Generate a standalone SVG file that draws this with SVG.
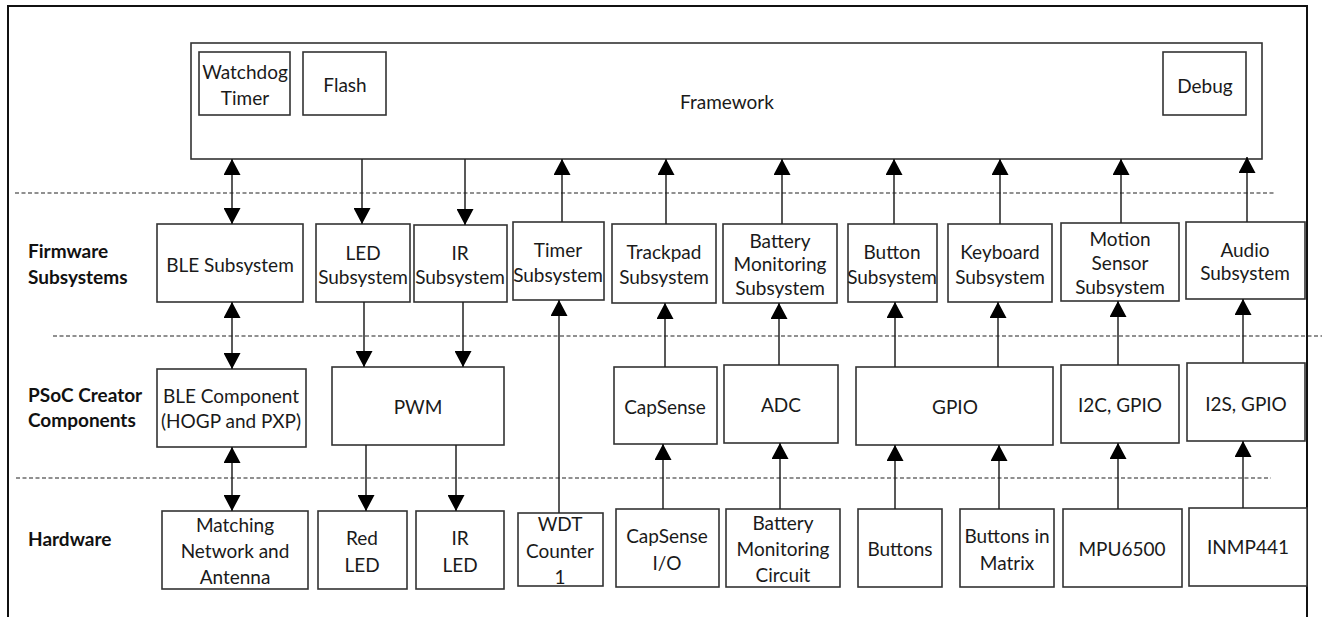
<svg xmlns="http://www.w3.org/2000/svg" width="1322" height="617" viewBox="0 0 1322 617">
<style>
.box{fill:#fff;stroke:#333;stroke-width:1.6}
.t{font-family:Lato,"Open Sans","Liberation Sans",sans-serif;font-size:19px;fill:#1a1a1a;text-anchor:middle}
.lbl{font-family:Lato,"Open Sans","Liberation Sans",sans-serif;font-size:19px;font-weight:bold;fill:#111}
.dash{stroke:#222;stroke-width:1.2;stroke-dasharray:4 2.5;fill:none}
.c line{stroke:#222;stroke-width:1.5}
.one{marker-end:url(#ah)}
.two{marker-end:url(#ah);marker-start:url(#ah)}
</style>
<defs>
<marker id="ah" markerUnits="userSpaceOnUse" markerWidth="16" markerHeight="17" refX="16" refY="8.5" orient="auto-start-reverse" viewBox="0 0 16 17">
<path d="M0,0 L16,8.5 L0,17 Z" fill="#000"/>
</marker>
</defs>
<rect width="1322" height="617" fill="#fff"/>
<path d="M8,617 V6 H1307 V617" fill="none" stroke="#111" stroke-width="2"/>
<g id="separators">
<line class="dash" x1="15" y1="193" x2="1275" y2="193"/>
<line class="dash" x1="53" y1="336" x2="1322" y2="336"/>
<line class="dash" x1="16" y1="478" x2="1271" y2="478"/>
</g>
<g id="layer-labels">
<text class="lbl" x="28" y="258">Firmware</text>
<text class="lbl" x="28" y="284">Subsystems</text>
<text class="lbl" x="28" y="402">PSoC Creator</text>
<text class="lbl" x="28" y="427">Components</text>
<text class="lbl" x="28" y="546">Hardware</text>
</g>
<g id="framework">
<rect class="box" x="191" y="43" width="1071" height="116"/>
<text class="t" x="727" y="109">Framework</text>
</g>
<g id="watchdog"><rect class="box" x="199" y="52" width="91" height="63"/><text class="t" x="245" y="79">Watchdog</text><text class="t" x="245" y="105">Timer</text></g>
<g id="flash"><rect class="box" x="303" y="52" width="83" height="63"/><text class="t" x="345" y="92">Flash</text></g>
<g id="debug"><rect class="box" x="1163" y="52" width="83" height="63"/><text class="t" x="1205" y="93">Debug</text></g>

<g id="ble-subsystem"><rect class="box" x="157" y="224" width="146" height="78"/><text class="t" x="230" y="272">BLE Subsystem</text></g>
<g id="led-subsystem"><rect class="box" x="316" y="224" width="94" height="78"/><text class="t" x="363" y="260">LED</text><text class="t" x="363" y="284">Subsystem</text></g>
<g id="ir-subsystem"><rect class="box" x="414" y="225" width="93" height="77"/><text class="t" x="460" y="260">IR</text><text class="t" x="460" y="284">Subsystem</text></g>
<g id="timer-subsystem"><rect class="box" x="513" y="222" width="91" height="78"/><text class="t" x="558" y="257">Timer</text><text class="t" x="558" y="282">Subsystem</text></g>
<g id="trackpad-subsystem"><rect class="box" x="612" y="224" width="104" height="79"/><text class="t" x="664" y="259">Trackpad</text><text class="t" x="664" y="284">Subsystem</text></g>
<g id="battery-subsystem"><rect class="box" x="723" y="224" width="114" height="79"/><text class="t" x="780" y="248">Battery</text><text class="t" x="780" y="271">Monitoring</text><text class="t" x="780" y="295">Subsystem</text></g>
<g id="button-subsystem"><rect class="box" x="848" y="224" width="89" height="78"/><text class="t" x="892" y="259">Button</text><text class="t" x="892" y="284">Subsystem</text></g>
<g id="keyboard-subsystem"><rect class="box" x="948" y="224" width="104" height="78"/><text class="t" x="1000" y="259">Keyboard</text><text class="t" x="1000" y="284">Subsystem</text></g>
<g id="motion-subsystem"><rect class="box" x="1061" y="223" width="118" height="78"/><text class="t" x="1120" y="246">Motion</text><text class="t" x="1120" y="270">Sensor</text><text class="t" x="1120" y="294">Subsystem</text></g>
<g id="audio-subsystem"><rect class="box" x="1186" y="222" width="119" height="77"/><text class="t" x="1245" y="257">Audio</text><text class="t" x="1245" y="280">Subsystem</text></g>

<g id="ble-component"><rect class="box" x="157" y="369" width="149" height="78"/><text class="t" x="231" y="403">BLE Component</text><text class="t" x="231" y="428">(HOGP and PXP)</text></g>
<g id="pwm"><rect class="box" x="332" y="367" width="172" height="78"/><text class="t" x="418" y="414">PWM</text></g>
<g id="capsense"><rect class="box" x="614" y="367" width="103" height="77"/><text class="t" x="665" y="414">CapSense</text></g>
<g id="adc"><rect class="box" x="724" y="365" width="114" height="78"/><text class="t" x="781" y="412">ADC</text></g>
<g id="gpio"><rect class="box" x="856" y="367" width="197" height="78"/><text class="t" x="955" y="414">GPIO</text></g>
<g id="i2c-gpio"><rect class="box" x="1061" y="365" width="118" height="78"/><text class="t" x="1120" y="412">I2C, GPIO</text></g>
<g id="i2s-gpio"><rect class="box" x="1187" y="363" width="118" height="78"/><text class="t" x="1246" y="411">I2S, GPIO</text></g>

<g id="matching-network"><rect class="box" x="162" y="511" width="146" height="78"/><text class="t" x="235" y="532">Matching</text><text class="t" x="235" y="558">Network and</text><text class="t" x="235" y="584">Antenna</text></g>
<g id="red-led"><rect class="box" x="318" y="511" width="89" height="78"/><text class="t" x="362" y="545">Red</text><text class="t" x="362" y="572">LED</text></g>
<g id="ir-led"><rect class="box" x="416" y="511" width="88" height="78"/><text class="t" x="460" y="545">IR</text><text class="t" x="460" y="572">LED</text></g>
<g id="wdt-counter"><rect class="box" x="518" y="513" width="85" height="73"/><text class="t" x="560" y="531">WDT</text><text class="t" x="560" y="558">Counter</text><text class="t" x="560" y="584">1</text></g>
<g id="capsense-io"><rect class="box" x="616" y="509" width="103" height="78"/><text class="t" x="667" y="543">CapSense</text><text class="t" x="667" y="570">I/O</text></g>
<g id="battery-circuit"><rect class="box" x="726" y="509" width="114" height="78"/><text class="t" x="783" y="530">Battery</text><text class="t" x="783" y="556">Monitoring</text><text class="t" x="783" y="582">Circuit</text></g>
<g id="buttons"><rect class="box" x="858" y="509" width="84" height="78"/><text class="t" x="900" y="556">Buttons</text></g>
<g id="buttons-matrix"><rect class="box" x="960" y="509" width="94" height="78"/><text class="t" x="1007" y="543">Buttons in</text><text class="t" x="1007" y="570">Matrix</text></g>
<g id="mpu6500"><rect class="box" x="1063" y="509" width="119" height="78"/><text class="t" x="1122" y="556">MPU6500</text></g>
<g id="inmp441"><rect class="box" x="1189" y="508" width="118" height="78"/><text class="t" x="1248" y="554">INMP441</text></g>

<g id="connectors" class="c">
<line class="two" x1="232" y1="159" x2="232" y2="224"/>
<line class="one" x1="362" y1="159" x2="362" y2="224"/>
<line class="one" x1="465" y1="159" x2="465" y2="225"/>
<line class="one" x1="562" y1="222" x2="562" y2="159"/>
<line class="one" x1="666" y1="224" x2="666" y2="159"/>
<line class="one" x1="782" y1="224" x2="782" y2="159"/>
<line class="one" x1="894" y1="224" x2="894" y2="159"/>
<line class="one" x1="1000" y1="224" x2="1000" y2="159"/>
<line class="one" x1="1121" y1="223" x2="1121" y2="159"/>
<line class="one" x1="1247" y1="222" x2="1247" y2="157"/>

<line class="two" x1="232" y1="302" x2="232" y2="369"/>
<line class="one" x1="364" y1="302" x2="364" y2="367"/>
<line class="one" x1="463" y1="302" x2="463" y2="367"/>
<line class="one" x1="559" y1="513" x2="559" y2="300"/>
<line class="one" x1="665" y1="367" x2="665" y2="303"/>
<line class="one" x1="779" y1="365" x2="779" y2="303"/>
<line class="one" x1="895" y1="367" x2="895" y2="302"/>
<line class="one" x1="998" y1="367" x2="998" y2="302"/>
<line class="one" x1="1118" y1="365" x2="1118" y2="301"/>
<line class="one" x1="1243" y1="363" x2="1243" y2="299"/>

<line class="two" x1="232" y1="447" x2="232" y2="511"/>
<line class="one" x1="366" y1="445" x2="366" y2="511"/>
<line class="one" x1="456" y1="445" x2="456" y2="511"/>
<line class="one" x1="663" y1="509" x2="663" y2="444"/>
<line class="one" x1="780" y1="509" x2="780" y2="443"/>
<line class="one" x1="895" y1="509" x2="895" y2="445"/>
<line class="one" x1="999" y1="509" x2="999" y2="445"/>
<line class="one" x1="1118" y1="509" x2="1118" y2="443"/>
<line class="one" x1="1243" y1="508" x2="1243" y2="441"/>
</g>
</svg>
